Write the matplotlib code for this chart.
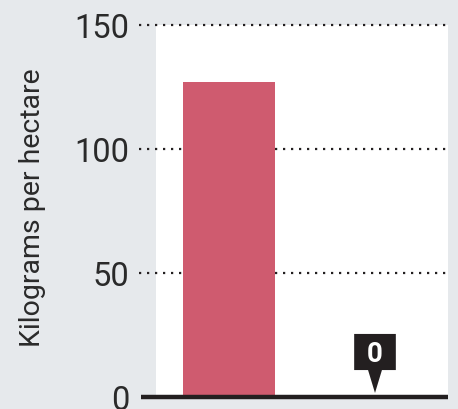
import matplotlib
matplotlib.use("Agg")
import matplotlib.pyplot as plt
import matplotlib.transforms as mtransforms
from matplotlib.patches import Polygon

categories = ["A", "B"]
values = [127, 0]
yticks = [0, 50, 100, 150]
ylabel = "Kilograms per hectare"

BG = "#e6e9ec"
BAR = "#cf5b6f"
INK = "#231f20"

plt.rcParams["font.family"] = ["Roboto", "DejaVu Sans"]

fig = plt.figure(figsize=(4.58, 4.09), dpi=100, facecolor=BG)
ax = fig.add_axes([156 / 458, 12 / 409, 292 / 458, 372 / 409])
ax.set_facecolor("white")

x = list(range(len(categories)))
ax.bar(x, values, width=0.63, color=BAR, zorder=2)

ax.set_xlim(-0.5, len(categories) - 0.5)
ax.set_ylim(0, 150)

# dotted gridlines reaching out past the left edge of the panel
trans = mtransforms.blended_transform_factory(ax.transAxes, ax.transData)
for t in yticks[1:]:
    ax.plot([-0.058, 1.0], [t, t], transform=trans, color=INK,
            linestyle=(0, (1, 2.6)), linewidth=1.6, clip_on=False, zorder=1)

# heavy baseline
ax.plot([-0.052, 1.0], [0, 0], transform=trans, color=INK, linewidth=3.2,
        solid_capstyle="butt", clip_on=False, zorder=4)

for s in ax.spines.values():
    s.set_visible(False)
ax.set_xticks([])
ax.set_yticks(yticks)
ax.set_yticklabels([str(t) for t in yticks], fontsize=23.5, color="#2a2a2a",
                   fontweight="normal")
ax.tick_params(axis="y", length=0, pad=19)
for lab in ax.get_yticklabels():
    lab.set_verticalalignment("center_baseline")

ax.set_ylabel(ylabel, fontsize=20.5, color="#2a2a2a", fontweight="normal")
ax.yaxis.set_label_coords(-0.375, 0.51)

# value tag (box with a downward pointer) for the empty bar
pt = fig.dpi / 72.0
for xi, v in zip(x, values):
    if v == 0:
        anchor = mtransforms.Affine2D().scale(pt) + \
            mtransforms.ScaledTranslation(xi, v, ax.transData)
        tag = Polygon([(-15, 19.4), (-5, 19.4), (0, 2.9), (5, 19.4), (15, 19.4),
                       (15, 45.4), (-15, 45.4)], closed=True, transform=anchor,
                      fc=INK, ec="none", clip_on=False, zorder=5)
        ax.add_patch(tag)
        ax.annotate(str(v), xy=(xi, v), xytext=(0, 32.4), textcoords="offset points",
                    ha="center", va="center_baseline", color="white", fontsize=20,
                    fontweight="bold", family=["Roboto", "DejaVu Sans"],
                    zorder=6, annotation_clip=False)

fig.savefig("out.png", dpi=100, facecolor=BG)
